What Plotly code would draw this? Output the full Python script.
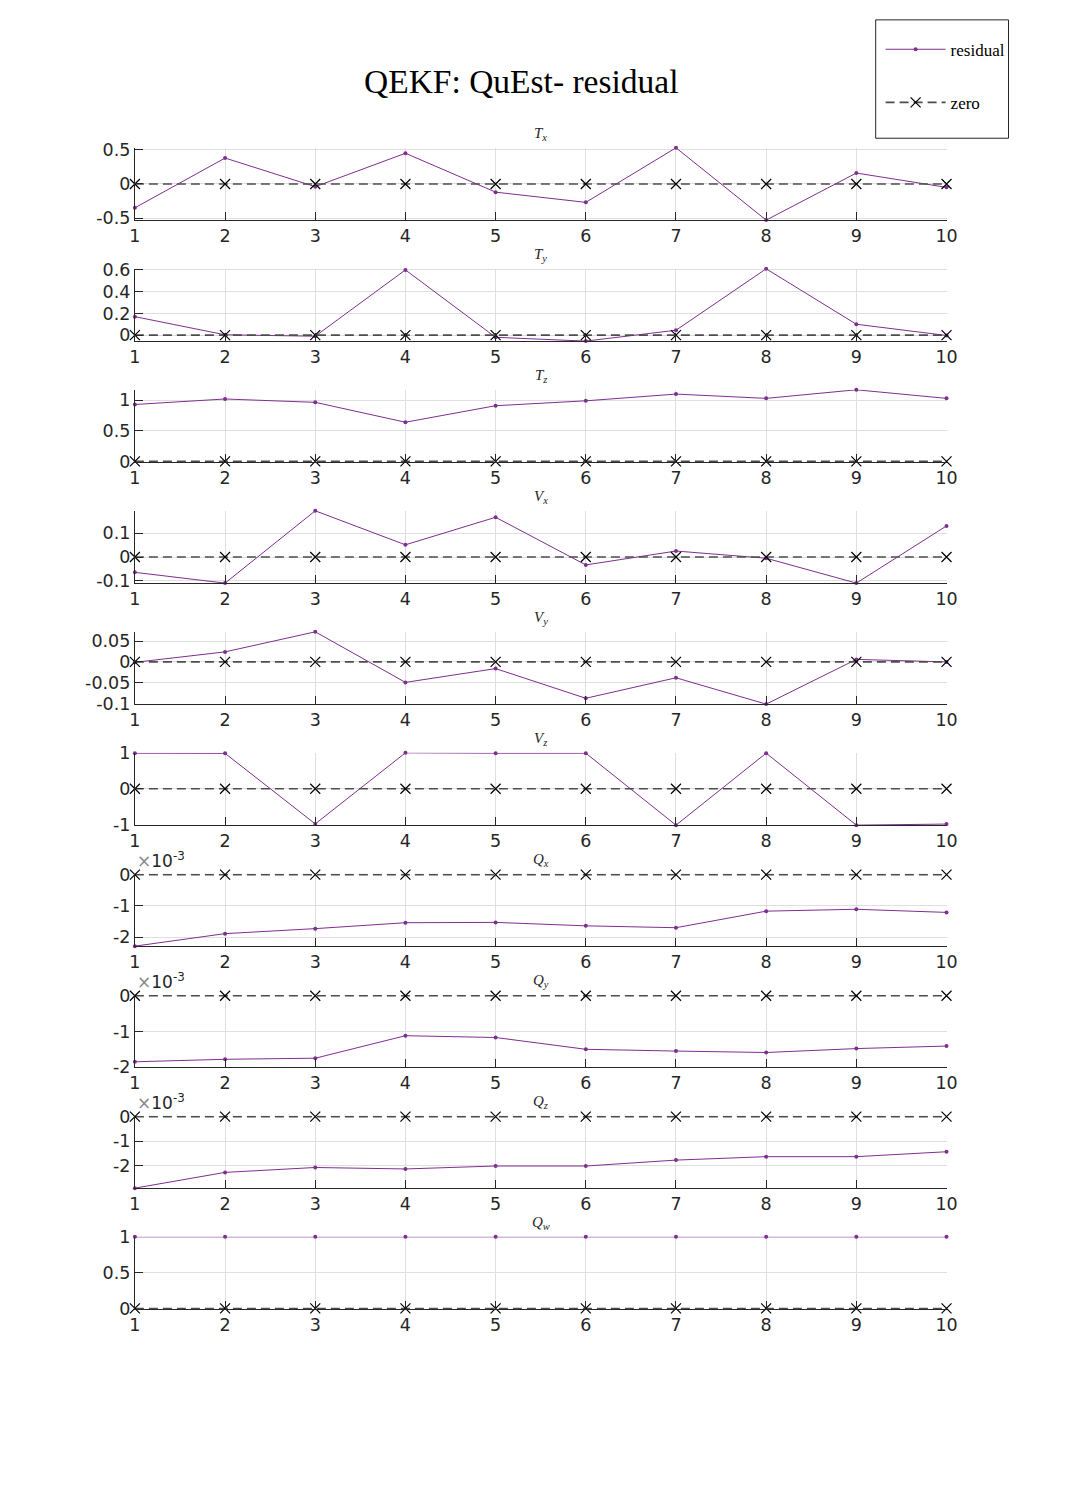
import plotly.graph_objects as go

# page is 1066x1489; the html body keeps an 8px margin, so the figure is 1050x1473
OFF = 8
W, H = 1066 - 2 * OFF, 1489 - 2 * OFF

# ---------------- data ----------------
steps = [1, 2, 3, 4, 5, 6, 7, 8, 9, 10]
zero_ref = [0, 0, 0, 0, 0, 0, 0, 0, 0, 0]

Tx = [-0.35, 0.38, -0.04, 0.45, -0.12, -0.27, 0.53, -0.53, 0.16, -0.05]
Ty = [0.17, 0.003, -0.01, 0.60, -0.02, -0.055, 0.045, 0.61, 0.10, -0.003]
Tz = [0.93, 1.02, 0.965, 0.64, 0.91, 0.99, 1.10, 1.03, 1.17, 1.03]
Vx = [-0.064, -0.109, 0.193, 0.051, 0.166, -0.033, 0.025, -0.005, -0.109, 0.13]
Vy = [-0.001, 0.024, 0.072, -0.049, -0.016, -0.087, -0.038, -0.101, 0.006, 0.0]
Vz = [1.0, 0.995, -0.985, 1.01, 1.0, 1.0, -1.02, 1.0, -1.02, -0.99]
Qx = [-2.29e-3, -1.89e-3, -1.73e-3, -1.54e-3, -1.53e-3, -1.64e-3, -1.70e-3, -1.17e-3, -1.11e-3, -1.21e-3]
Qy = [-1.85e-3, -1.78e-3, -1.75e-3, -1.12e-3, -1.17e-3, -1.50e-3, -1.55e-3, -1.59e-3, -1.48e-3, -1.41e-3]
Qz = [-2.91e-3, -2.27e-3, -2.07e-3, -2.13e-3, -2.01e-3, -2.01e-3, -1.77e-3, -1.63e-3, -1.63e-3, -1.43e-3]
Qw = [1.0, 1.0, 1.0, 1.0, 1.0, 1.0, 1.0, 1.0, 1.0, 1.0]

panel_titles = ["<i>T<sub>x</sub></i>", "<i>T<sub>y</sub></i>", "<i>T<sub>z</sub></i>",
                "<i>V<sub>x</sub></i>", "<i>V<sub>y</sub></i>", "<i>V<sub>z</sub></i>",
                "<i>Q<sub>x</sub></i>", "<i>Q<sub>y</sub></i>", "<i>Q<sub>z</sub></i>",
                "<i>Q<sub>w</sub></i>"]
series = [Tx, Ty, Tz, Vx, Vy, Vz, Qx, Qy, Qz, Qw]
ylims = [[-0.53, 0.53], [-0.055, 0.61], [-0.012, 1.17], [-0.109, 0.193], [-0.101, 0.072],
         [-1.02, 1.01], [-2.29e-3, 0.025e-3], [-2e-3, 0.025e-3], [-2.91e-3, 0.03e-3], [-0.01, 1.0]]
ytickvals = [[-0.5, 0, 0.5], [0, 0.2, 0.4, 0.6], [0, 0.5, 1], [-0.1, 0, 0.1],
             [-0.1, -0.05, 0, 0.05], [-1, 0, 1], [-2e-3, -1e-3, 0], [-2e-3, -1e-3, 0],
             [-2e-3, -1e-3, 0], [0, 0.5, 1]]
yticktexts = [["-0.5", "0", "0.5"], ["0", "0.2", "0.4", "0.6"], ["0", "0.5", "1"],
              ["-0.1", "0", "0.1"], ["-0.1", "-0.05", "0", "0.05"], ["-1", "0", "1"],
              ["-2", "-1", "0"], ["-2", "-1", "0"], ["-2", "-1", "0"], ["0", "0.5", "1"]]
exponent_panels = [6, 7, 8]
xtick_labels = ["1", "2", "3", "4", "5", "6", "7", "8", "9", "10"]

# ---------------- styling / layout ----------------
PURPLE = "#7E2F8E"
AX = "#262626"
GRID = "#dfdfdf"
TICKFONT = dict(family="DejaVu Sans", size=17.5, color=AX)


def px(xp):
    return (xp - OFF) / W


def py(yp):
    return 1 - (yp - OFF) / H


x_left, x_right = 139, 964
top0, step, ph = 147.7, 122.67, 73.3

fig = go.Figure()
layout = dict(
    width=W, height=H,
    margin=dict(l=0, r=0, t=0, b=0),
    paper_bgcolor="white", plot_bgcolor="white",
    showlegend=True,
    legend=dict(
        x=px(897), y=py(30), xanchor="left", yanchor="top",
        borderwidth=0, bgcolor="rgba(0,0,0,0)",
        font=dict(family="Liberation Serif", size=17, color="black"),
        tracegroupgap=28, itemwidth=60,
    ),
)
annotations = []
shapes = [dict(type="rect", xref="paper", yref="paper",
               x0=px(892), x1=px(1027), y0=py(138), y1=py(18),
               line=dict(color=AX, width=1), fillcolor="rgba(0,0,0,0)", layer="above")]

for i, (vals, title, yl, tv, tt) in enumerate(zip(series, panel_titles, ylims, ytickvals, yticktexts)):
    suf = "" if i == 0 else str(i + 1)
    top = top0 + i * step
    bot = top + ph
    layout["xaxis" + suf] = dict(
        domain=[px(x_left), px(x_right)], anchor="y" + suf, range=[1, 10],
        tickvals=steps, ticktext=xtick_labels, ticks="inside", ticklen=8,
        tickcolor=AX, tickwidth=1, showline=True, linecolor=AX, linewidth=1,
        showgrid=True, gridcolor=GRID, gridwidth=1, zeroline=False,
        tickfont=TICKFONT, mirror=False, ticklabelstandoff=0,
    )
    layout["yaxis" + suf] = dict(
        domain=[py(bot), py(top)], anchor="x" + suf, range=yl,
        tickvals=tv, ticktext=tt, ticks="inside", ticklen=8,
        tickcolor=AX, tickwidth=1, showline=True, linecolor=AX, linewidth=1,
        showgrid=True, gridcolor=GRID, gridwidth=1, zeroline=False,
        tickfont=TICKFONT, mirror=False,
    )
    fig.add_trace(go.Scatter(
        x=steps, y=vals, xaxis="x" + suf, yaxis="y" + suf, mode="lines+markers",
        line=dict(color=PURPLE, width=1), marker=dict(color=PURPLE, size=4, symbol="circle"),
        name="residual", legendgroup="residual", showlegend=(i == 0), cliponaxis=False,
    ))
    fig.add_trace(go.Scatter(
        x=steps, y=zero_ref, xaxis="x" + suf, yaxis="y" + suf, mode="lines+markers",
        line=dict(color="#4d4d4d", width=1.6, dash="9px,5px"),
        marker=dict(symbol="x-thin", size=10, color="black", line=dict(color="black", width=1.2)),
        name="zero", legendgroup="zero", showlegend=(i == 0), cliponaxis=False,
    ))
    annotations.append(dict(
        text=title, x=px((x_left + x_right) / 2), y=py(top - 14),
        xref="paper", yref="paper", xanchor="center", yanchor="middle", showarrow=False,
        font=dict(family="Liberation Serif", size=15, color=AX),
    ))
    if i in exponent_panels:
        annotations.append(dict(
            text='<span style="color:#8a8a8a">×</span>10<sup>-3</sup>',
            x=px(x_left), y=py(top - 1), xref="paper", yref="paper",
            xanchor="left", yanchor="bottom", showarrow=False,
            font=dict(family="DejaVu Sans", size=17, color=AX),
        ))

annotations.append(dict(
    text="QEKF: QuEst- residual", x=px(532), y=py(80), xref="paper", yref="paper",
    xanchor="center", yanchor="middle", showarrow=False,
    font=dict(family="Liberation Serif", size=33.5, color="black"),
))
layout["annotations"] = annotations
layout["shapes"] = shapes
fig.update_layout(**layout)
fig.write_html("out.html")
